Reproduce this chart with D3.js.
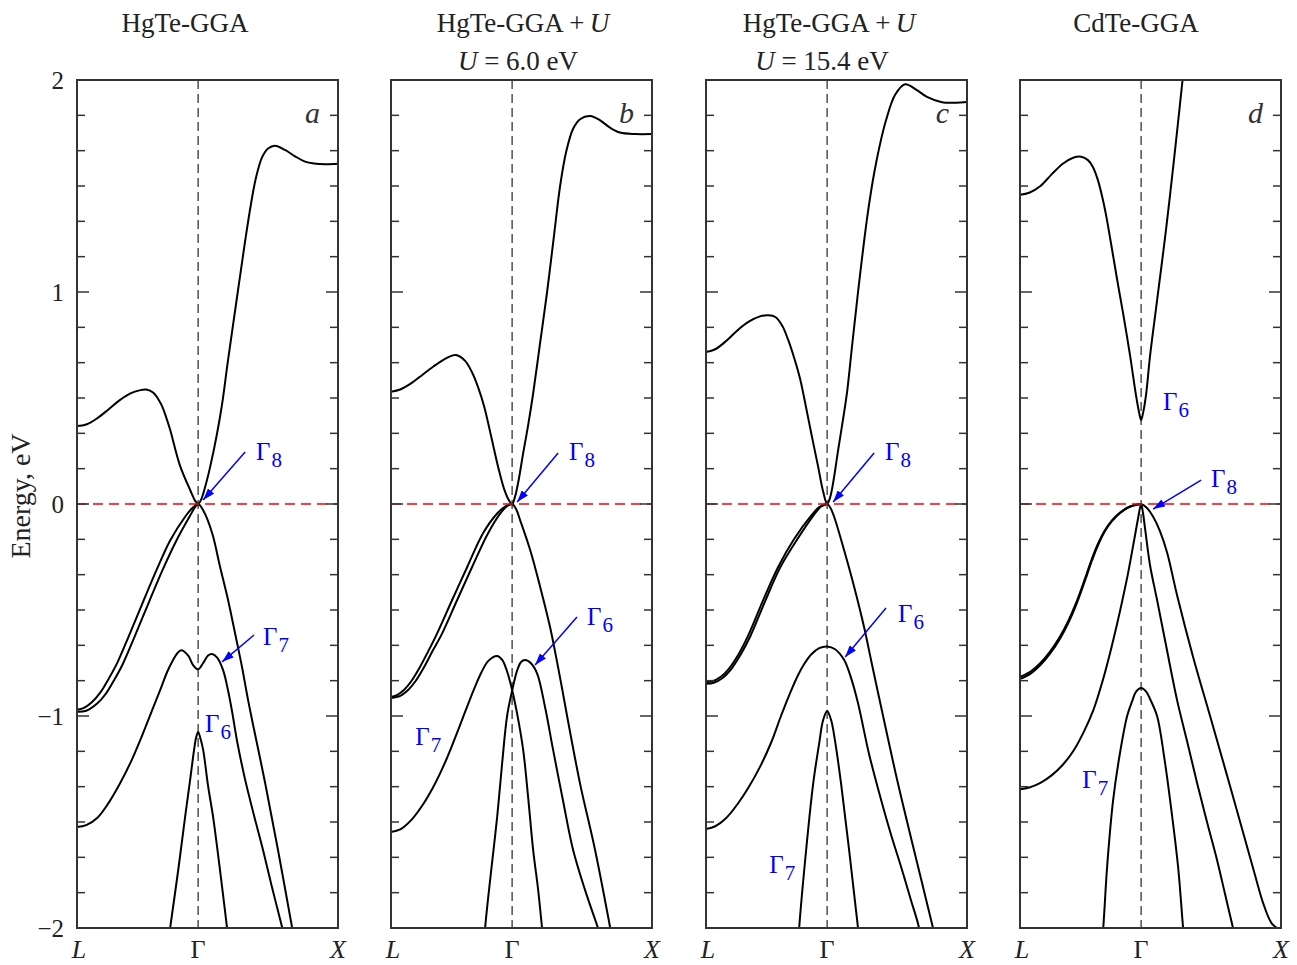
<!DOCTYPE html>
<html>
<head>
<meta charset="utf-8">
<script src="https://cdn.jsdelivr.net/npm/d3@7"></script>
<style>
body { margin: 0; background: #fff; }
text { font-family: "Liberation Serif", "Times New Roman", serif; }
</style>
</head>
<body>
<div class="chart"></div>
<script>

// ---- data: k along L-G-X (L = -0.866, G = 0, X = 1), energy in eV ----

var kTickValues = [-0.866, 0, 1];
var kTickLabels = ["L", "\u0393", "X"];
var yLabelValues = [2, 1, 0, -1, -2];
var panelLetters = ["a", "b", "c", "d"];

var panelTitles = [
	[["HgTe-GGA", false]],
	[["HgTe-GGA\u2009+\u2009", false], ["U", true]],
	[["HgTe-GGA\u2009+\u2009", false], ["U", true]],
	[["CdTe-GGA", false]]
];
var panelSubtitles = [
	[],
	[["U", true], [" = 6.0 eV", false]],
	[["U", true], [" = 15.4 eV", false]],
	[]
];

// panel a : HgTe-GGA
var bandsA = [
	[[-0.866,0.368],[-0.8,0.375],[-0.72,0.405],[-0.643,0.445],[-0.56,0.49],[-0.48,0.523],[-0.42,0.536],[-0.371,0.54],[-0.32,0.525],[-0.264,0.47],[-0.229,0.41],[-0.2,0.35],[-0.129,0.18],[-0.057,0.066],[-0.021,0.015],[0,0],[0.021,0.02],[0.05,0.08],[0.086,0.175],[0.136,0.335],[0.171,0.47],[0.214,0.68],[0.279,0.98],[0.336,1.24],[0.379,1.42],[0.414,1.54],[0.457,1.635],[0.5,1.677],[0.55,1.69],[0.621,1.67],[0.693,1.64],[0.764,1.615],[0.829,1.606],[0.907,1.603],[1,1.605]],
	[[-0.866,-0.97],[-0.82,-0.963],[-0.76,-0.935],[-0.7,-0.89],[-0.64,-0.825],[-0.58,-0.752],[-0.5,-0.63],[-0.393,-0.46],[-0.293,-0.305],[-0.2,-0.172],[-0.093,-0.06],[-0.043,-0.02],[0,0],[0.036,-0.03],[0.1,-0.137],[0.157,-0.297],[0.214,-0.453],[0.264,-0.61],[0.314,-0.77],[0.35,-0.9],[0.386,-1.02],[0.479,-1.316],[0.571,-1.632],[0.671,-1.995],[0.729,-2.2]],
	[[-0.866,-0.98],[-0.8,-0.975],[-0.72,-0.94],[-0.66,-0.895],[-0.6,-0.83],[-0.54,-0.757],[-0.46,-0.635],[-0.35,-0.46],[-0.25,-0.305],[-0.155,-0.172],[-0.06,-0.058],[-0.022,-0.015],[0,0]],
	[[-0.866,-1.524],[-0.8,-1.515],[-0.72,-1.48],[-0.64,-1.41],[-0.56,-1.32],[-0.48,-1.215],[-0.393,-1.08],[-0.33,-0.975],[-0.271,-0.877],[-0.22,-0.79],[-0.179,-0.736],[-0.15,-0.705],[-0.121,-0.69],[-0.071,-0.715],[-0.036,-0.76],[0,-0.78],[0.036,-0.75],[0.071,-0.715],[0.1,-0.708],[0.136,-0.725],[0.179,-0.785],[0.214,-0.88],[0.243,-0.98],[0.279,-1.12],[0.336,-1.3],[0.4,-1.47],[0.464,-1.632],[0.529,-1.81],[0.6,-1.995],[0.657,-2.15]],
	[[-0.229,-2.15],[-0.2,-2.0],[-0.143,-1.73],[-0.093,-1.476],[-0.057,-1.3],[-0.029,-1.16],[-0.014,-1.1],[0,-1.075],[0.014,-1.1],[0.036,-1.16],[0.071,-1.33],[0.107,-1.476],[0.157,-1.73],[0.207,-2.0],[0.236,-2.15]]
];

// panel b : HgTe-GGA+U, U = 6.0 eV
var bandsB = [
	[[-0.866,0.53],[-0.8,0.54],[-0.72,0.57],[-0.64,0.61],[-0.56,0.65],[-0.48,0.685],[-0.43,0.7],[-0.4,0.703],[-0.336,0.675],[-0.286,0.62],[-0.243,0.55],[-0.2,0.46],[-0.157,0.34],[-0.1,0.175],[-0.057,0.07],[-0.021,0.015],[0,0],[0.021,0.035],[0.043,0.1],[0.079,0.24],[0.114,0.37],[0.15,0.52],[0.2,0.76],[0.25,1.0],[0.3,1.27],[0.343,1.5],[0.386,1.66],[0.436,1.77],[0.486,1.815],[0.557,1.83],[0.629,1.81],[0.7,1.775],[0.771,1.752],[0.879,1.745],[1,1.745]],
	[[-0.866,-0.91],[-0.82,-0.9],[-0.77,-0.875],[-0.72,-0.835],[-0.66,-0.77],[-0.6,-0.695],[-0.536,-0.61],[-0.429,-0.453],[-0.321,-0.297],[-0.207,-0.137],[-0.107,-0.045],[-0.05,-0.012],[0,0],[0.029,-0.025],[0.057,-0.076],[0.129,-0.217],[0.2,-0.39],[0.271,-0.58],[0.314,-0.72],[0.357,-0.87],[0.393,-1.0],[0.486,-1.32],[0.593,-1.632],[0.7,-1.995],[0.743,-2.15]],
	[[-0.866,-0.915],[-0.8,-0.905],[-0.74,-0.875],[-0.69,-0.835],[-0.63,-0.77],[-0.57,-0.695],[-0.5,-0.61],[-0.393,-0.453],[-0.286,-0.297],[-0.171,-0.137],[-0.079,-0.04],[-0.036,-0.01],[0,0]],
	[[-0.866,-1.547],[-0.8,-1.535],[-0.72,-1.49],[-0.64,-1.42],[-0.56,-1.33],[-0.48,-1.22],[-0.4,-1.09],[-0.33,-0.97],[-0.27,-0.87],[-0.22,-0.795],[-0.17,-0.74],[-0.107,-0.717],[-0.071,-0.735],[-0.036,-0.79],[0,-0.877],[0.036,-0.99],[0.079,-1.16],[0.114,-1.38],[0.15,-1.63],[0.186,-1.82],[0.214,-2.0],[0.236,-2.14]],
	[[-0.207,-2.15],[-0.193,-2.0],[-0.15,-1.73],[-0.107,-1.476],[-0.071,-1.22],[-0.036,-1.0],[0,-0.88],[0.036,-0.785],[0.064,-0.745],[0.093,-0.736],[0.136,-0.752],[0.179,-0.8],[0.236,-0.96],[0.293,-1.16],[0.364,-1.4],[0.436,-1.632],[0.521,-1.82],[0.614,-2.0],[0.664,-2.1]]
];

// panel c : HgTe-GGA+U, U = 15.4 eV
var bandsC = [
	[[-0.866,0.717],[-0.8,0.73],[-0.72,0.77],[-0.64,0.82],[-0.56,0.86],[-0.48,0.885],[-0.42,0.89],[-0.37,0.882],[-0.32,0.84],[-0.279,0.775],[-0.236,0.69],[-0.193,0.59],[-0.164,0.5],[-0.114,0.335],[-0.064,0.175],[-0.029,0.06],[0,0],[0.021,0.03],[0.043,0.1],[0.079,0.255],[0.114,0.4],[0.143,0.53],[0.179,0.75],[0.221,1.0],[0.286,1.35],[0.336,1.56],[0.379,1.7],[0.421,1.81],[0.486,1.93],[0.557,1.98],[0.636,1.955],[0.714,1.92],[0.821,1.895],[0.921,1.893],[1,1.896]],
	[[-0.866,-0.84],[-0.82,-0.836],[-0.76,-0.815],[-0.7,-0.775],[-0.63,-0.705],[-0.564,-0.62],[-0.457,-0.453],[-0.35,-0.297],[-0.236,-0.165],[-0.114,-0.055],[-0.057,-0.015],[0,0],[0.021,-0.015],[0.05,-0.06],[0.121,-0.217],[0.193,-0.39],[0.264,-0.58],[0.314,-0.736],[0.364,-0.89],[0.4,-1.0],[0.507,-1.32],[0.621,-1.632],[0.757,-2.0],[0.8,-2.12]],
	[[-0.866,-0.848],[-0.81,-0.843],[-0.75,-0.822],[-0.69,-0.782],[-0.62,-0.712],[-0.55,-0.625],[-0.443,-0.458],[-0.336,-0.3],[-0.214,-0.167],[-0.093,-0.05],[-0.043,-0.012],[0,0]],
	[[-0.866,-1.533],[-0.8,-1.52],[-0.72,-1.48],[-0.64,-1.415],[-0.56,-1.335],[-0.48,-1.24],[-0.4,-1.125],[-0.33,-1.0],[-0.27,-0.9],[-0.21,-0.81],[-0.164,-0.755],[-0.114,-0.71],[-0.057,-0.68],[0,-0.672],[0.057,-0.685],[0.121,-0.735],[0.171,-0.82],[0.221,-0.94],[0.3,-1.18],[0.386,-1.396],[0.457,-1.56],[0.529,-1.712],[0.6,-1.87],[0.65,-1.98],[0.679,-2.07]],
	[[-0.214,-2.15],[-0.2,-2.0],[-0.15,-1.632],[-0.1,-1.32],[-0.057,-1.13],[-0.029,-1.02],[0,-0.976],[0.029,-1.02],[0.057,-1.12],[0.1,-1.32],[0.157,-1.632],[0.221,-2.0],[0.243,-2.12]]
];

// panel d : CdTe-GGA
var bandsD = [
	[[-0.866,1.459],[-0.8,1.468],[-0.72,1.5],[-0.64,1.555],[-0.56,1.605],[-0.49,1.632],[-0.429,1.638],[-0.38,1.622],[-0.345,1.59],[-0.31,1.53],[-0.275,1.44],[-0.25,1.36],[-0.2,1.17],[-0.164,1.03],[-0.129,0.9],[-0.079,0.7],[-0.036,0.51],[-0.014,0.43],[0,0.396],[0.014,0.43],[0.036,0.52],[0.064,0.7],[0.114,0.96],[0.179,1.3],[0.236,1.63],[0.293,1.98],[0.321,2.15]],
	[[-0.866,-0.815],[-0.79,-0.79],[-0.72,-0.75],[-0.65,-0.695],[-0.58,-0.625],[-0.52,-0.55],[-0.47,-0.475],[-0.43,-0.405],[-0.39,-0.33],[-0.35,-0.255],[-0.31,-0.19],[-0.26,-0.125],[-0.21,-0.078],[-0.15,-0.04],[-0.08,-0.012],[0,0],[0.043,-0.02],[0.086,-0.06],[0.136,-0.13],[0.186,-0.23],[0.257,-0.43],[0.371,-0.72],[0.493,-1.0],[0.614,-1.28],[0.729,-1.55],[0.814,-1.75],[0.871,-1.88],[0.936,-1.98],[1,-2.01]],
	[[-0.866,-0.825],[-0.79,-0.8],[-0.72,-0.76],[-0.65,-0.705],[-0.58,-0.635],[-0.52,-0.56],[-0.47,-0.485],[-0.43,-0.415],[-0.39,-0.34],[-0.35,-0.264],[-0.31,-0.197],[-0.26,-0.13],[-0.21,-0.082],[-0.15,-0.042],[-0.08,-0.013],[0,0]],
	[[-0.866,-1.345],[-0.8,-1.337],[-0.72,-1.315],[-0.64,-1.28],[-0.56,-1.23],[-0.48,-1.16],[-0.41,-1.075],[-0.343,-0.975],[-0.28,-0.845],[-0.221,-0.7],[-0.17,-0.56],[-0.136,-0.46],[-0.093,-0.325],[-0.043,-0.145],[-0.021,-0.065],[0,0],[0.014,-0.045],[0.029,-0.12],[0.064,-0.29],[0.114,-0.453],[0.179,-0.67],[0.257,-0.925],[0.329,-1.12],[0.4,-1.316],[0.471,-1.5],[0.543,-1.68],[0.6,-1.84],[0.657,-2.0],[0.693,-2.1]],
	[[-0.286,-2.1],[-0.271,-2.0],[-0.243,-1.71],[-0.2,-1.396],[-0.15,-1.17],[-0.1,-1.0],[-0.064,-0.93],[-0.036,-0.885],[0,-0.868],[0.036,-0.885],[0.064,-0.92],[0.114,-1.0],[0.164,-1.19],[0.207,-1.396],[0.264,-1.71],[0.3,-2.0],[0.314,-2.1]]
];

// symmetry point labels: anchor (k, E) of the text, optional arrow [k1, E1, k2, E2]
var labelsA = [
	{sub: "8", k: 0.414, e: 0.208, arrow: [0.336, 0.245, 0.036, 0.019]},
	{sub: "7", k: 0.464, e: -0.665, arrow: [0.4, -0.618, 0.171, -0.745]},
	{sub: "6", k: 0.05, e: -1.075, arrow: null}
];
var labelsB = [
	{sub: "8", k: 0.407, e: 0.208, arrow: [0.329, 0.241, 0.036, 0.009]},
	{sub: "6", k: 0.536, e: -0.571, arrow: [0.464, -0.533, 0.164, -0.759]},
	{sub: "7", k: -0.693, e: -1.137, arrow: null}
];
var labelsC = [
	{sub: "8", k: 0.414, e: 0.208, arrow: [0.336, 0.241, 0.043, 0.009]},
	{sub: "6", k: 0.507, e: -0.557, arrow: [0.421, -0.491, 0.129, -0.722]},
	{sub: "7", k: -0.414, e: -1.741, arrow: null}
];
var labelsD = [
	{sub: "6", k: 0.157, e: 0.443, arrow: null},
	{sub: "8", k: 0.5, e: 0.08, arrow: [0.429, 0.113, 0.086, -0.024]},
	{sub: "7", k: -0.421, e: -1.34, arrow: null}
];

var panelBands = [bandsA, bandsB, bandsC, bandsD];
var panelLabels = [labelsA, labelsB, labelsC, labelsD];

// ---- layout ----
var W = 1297, H = 965;
var panelLeft = [77, 391, 706, 1020];
var panelW = 261;
var plotTop = 80, plotBottom = 928;
var titleX = [185, 523, 829, 1136];
var subtitleX = [0, 518, 822, 0];
var blue = "#0000ff";

var svg = d3.select('.chart')
	.append("svg")
	.attr("width", W)
	.attr("height", H);

var defs = svg.append("defs");
defs.append("marker")
	.attr("id", "arrowhead")
	.attr("viewBox", "0 0 12 8")
	.attr("refX", 12)
	.attr("refY", 4)
	.attr("markerWidth", 12)
	.attr("markerHeight", 8)
	.attr("markerUnits", "userSpaceOnUse")
	.attr("orient", "auto")
	.append("path")
	.attr("d", "M0,0L12,4L0,8z")
	.attr("fill", blue);

var y = d3.scaleLinear().domain([-2, 2]).range([plotBottom, plotTop]);
var minorTicks = d3.range(-12, 13).map(function(i) { return i / 6; });

function addRuns(sel, runs) {
	runs.forEach(function(r) {
		sel.append("tspan")
			.style("font-style", r[1] ? "italic" : "normal")
			.text(r[0]);
	});
}

panelLeft.forEach(function(x0, p) {

	var x = d3.scaleLinear().domain([-0.866, 1]).range([x0, x0 + panelW]);
	var g = svg.append("g");

	defs.append("clipPath")
		.attr("id", "clip" + p)
		.append("rect")
		.attr("x", x0).attr("y", plotTop)
		.attr("width", panelW).attr("height", plotBottom - plotTop);

	// Gamma line
	g.append("line")
		.attr("x1", x(0)).attr("x2", x(0))
		.attr("y1", plotTop).attr("y2", plotBottom)
		.attr("stroke", "#444")
		.attr("stroke-width", 1.4)
		.attr("stroke-dasharray", "9,5");

	// bands
	var line = d3.line()
		.x(function(d) { return x(d[0]); })
		.y(function(d) { return y(d[1]); })
		.curve(d3.curveCatmullRom.alpha(0.5));

	g.append("g")
		.attr("clip-path", "url(#clip" + p + ")")
		.selectAll("path")
		.data(panelBands[p])
		.enter()
		.append("path")
		.attr("fill", "none")
		.attr("stroke", "#000")
		.attr("stroke-width", 2)
		.attr("stroke-linejoin", "round")
		.attr("d", line);

	// Fermi level
	g.append("line")
		.attr("x1", x0).attr("x2", x0 + panelW)
		.attr("y1", y(0)).attr("y2", y(0))
		.attr("stroke", "#ff0000")
		.attr("stroke-width", 1.5)
		.attr("stroke-dasharray", "10,6");

	// frame
	g.append("rect")
		.attr("x", x0).attr("y", plotTop)
		.attr("width", panelW).attr("height", plotBottom - plotTop)
		.attr("fill", "none")
		.attr("stroke", "#333")
		.attr("stroke-width", 2);

	// ticks, both sides, pointing inside
	minorTicks.forEach(function(t) {
		var len = Math.abs(t - Math.round(t)) < 1e-6 ? 12 : 8;
		g.append("line")
			.attr("x1", x0).attr("x2", x0 + len)
			.attr("y1", y(t)).attr("y2", y(t))
			.attr("stroke", "#333").attr("stroke-width", 1.5);
		g.append("line")
			.attr("x1", x0 + panelW - len).attr("x2", x0 + panelW)
			.attr("y1", y(t)).attr("y2", y(t))
			.attr("stroke", "#333").attr("stroke-width", 1.5);
	});

	// k-point labels
	kTickValues.forEach(function(k, i) {
		g.append("text")
			.attr("x", x(k) + (i == 0 ? 2 : 0))
			.attr("y", 958)
			.attr("text-anchor", "middle")
			.style("font-size", "26px")
			.style("font-style", i == 1 ? "normal" : "italic")
			.attr("fill", "#222")
			.text(kTickLabels[i]);
	});

	// panel letter
	g.append("text")
		.attr("x", x0 + panelW - 18)
		.attr("y", 123)
		.attr("text-anchor", "end")
		.style("font-size", "30px")
		.style("font-style", "italic")
		.attr("fill", "#333")
		.text(panelLetters[p]);

	// titles
	var t1 = g.append("text")
		.attr("x", titleX[p]).attr("y", 32)
		.attr("text-anchor", "middle")
		.style("font-size", "27px")
		.attr("fill", "#222");
	addRuns(t1, panelTitles[p]);

	if (panelSubtitles[p].length) {
		var t2 = g.append("text")
			.attr("x", subtitleX[p]).attr("y", 70)
			.attr("text-anchor", "middle")
			.style("font-size", "27px")
			.attr("fill", "#222");
		addRuns(t2, panelSubtitles[p]);
	}

	// Gamma labels and arrows
	panelLabels[p].forEach(function(l) {
		var lt = g.append("text")
			.attr("x", x(l.k)).attr("y", y(l.e))
			.attr("fill", blue)
			.style("font-size", "25px");
		lt.append("tspan").text("\u0393");
		lt.append("tspan")
			.attr("dy", 7).attr("dx", 1)
			.style("font-size", "21px")
			.text(l.sub);

		if (l.arrow) {
			g.append("line")
				.attr("x1", x(l.arrow[0])).attr("y1", y(l.arrow[1]))
				.attr("x2", x(l.arrow[2])).attr("y2", y(l.arrow[3]))
				.attr("stroke", blue)
				.attr("stroke-width", 1.5)
				.attr("marker-end", "url(#arrowhead)");
		}
	});
});

// energy tick labels (first panel only)
yLabelValues.forEach(function(v) {
	svg.append("text")
		.attr("x", 64)
		.attr("y", y(v) + 9)
		.attr("text-anchor", "end")
		.style("font-size", "25px")
		.attr("fill", "#222")
		.text(v < 0 ? "\u2212" + Math.abs(v) : v);
});

svg.append("text")
	.attr("transform", "translate(30," + (y(0) - 8) + ") rotate(-90)")
	.attr("text-anchor", "middle")
	.style("font-size", "28px")
	.attr("fill", "#222")
	.text("Energy, eV");

</script>
</body>
</html>
